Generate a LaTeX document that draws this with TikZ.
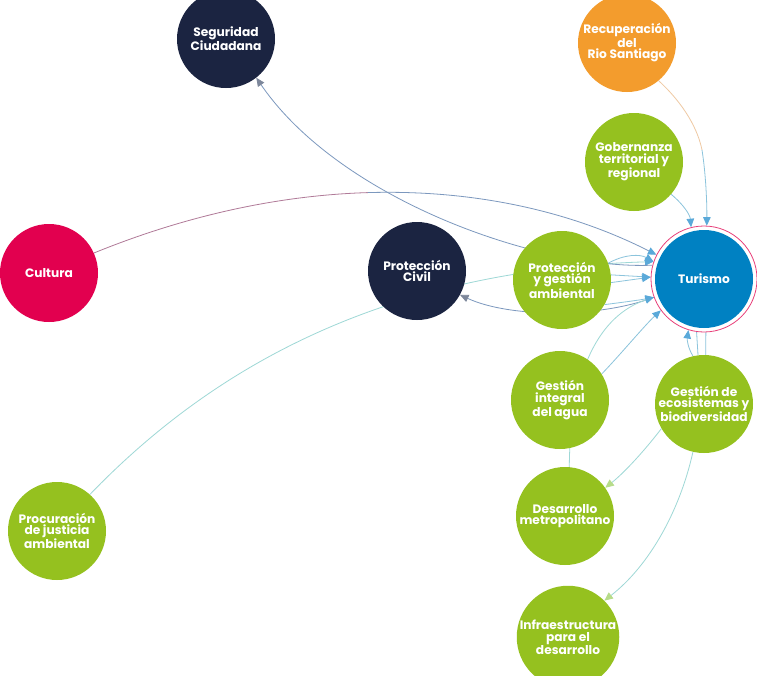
\documentclass[tikz,border=0pt]{standalone}
\usepackage{fontspec}
\setmainfont{Poppins}
\usetikzlibrary{arrows.meta}
\definecolor{navy}{HTML}{1B2441}
\definecolor{lime}{HTML}{95C11F}
\definecolor{orng}{HTML}{F39C2D}
\definecolor{turblue}{HTML}{0081C2}
\definecolor{crim}{HTML}{E2004F}
\definecolor{ringpink}{HTML}{E8407A}
\definecolor{lblue}{HTML}{8CC4DC}
\definecolor{arrblue}{HTML}{5AA9D9}
\definecolor{grayblue}{HTML}{7C98BE}
\definecolor{arrgray}{HTML}{7D879B}
\definecolor{lteal}{HTML}{9ED8D6}
\definecolor{mauve}{HTML}{B07A98}
\definecolor{peach}{HTML}{EFC9A3}
\definecolor{lgreen}{HTML}{B7DC8A}
\pgfdeclarelayer{back}
\pgfdeclarelayer{bg}
\pgfsetlayers{back,bg,main}
\begin{document}
\begin{tikzpicture}[x=1pt,y=-1pt,
  topic/.style={circle, minimum size=98pt, inner sep=0pt, text=white, align=center,
    font=\fontsize{12.2}{11.8}\selectfont\bfseries},
  link/.style={line width=0.8pt},
  arrowto/.style={-{Triangle[length=8.5pt,width=7.5pt,color=#1]}},
]
\begin{pgfonlayer}{back}
\fill[white] (0,0) rectangle (757,675);
\end{pgfonlayer}
\useasboundingbox (0,0) rectangle (757,675);

% nodes
\node[topic, fill=navy] (seg) at (226,39) {Seguridad\\Ciudadana};
\node[topic, fill=orng] (rec) at (627,43) {Recuperación\\del\\Rio Santiago};
\node[topic, fill=lime] (gob) at (634,162) {Gobernanza\\territorial y\\regional};
\node[circle, draw=ringpink, line width=0.8pt, fill=white, minimum size=106pt, inner sep=0pt] (tur) at (704,279) {};
\node[topic, fill=turblue] (turin) at (tur) {Turismo};
\node[topic, fill=lime] (pyga) at (562,280) {Protección\\y gestión\\ambiental};
\node[topic, fill=navy] (pc) at (417,271) {Protección\\Civil};
\node[topic, fill=crim] (cul) at (49,273) {Cultura};
\node[topic, fill=lime] (agua) at (560,400) {Gestión\\integral\\del agua};
\node[topic, fill=lime] (eco) at (704,404) {Gestión de\\ecosistemas y\\biodiversidad};
\node[topic, fill=lime] (des) at (565,516) {Desarrollo\\metropolitano};
\node[topic, fill=lime] (inf) at (568,637) {Infraestructura\\para el\\desarrollo};
\node[topic, fill=lime] (pro) at (57,531) {Procuración\\de justicia\\ambiental};

\coordinate (cmid) at (367.75,192.6);
\coordinate (rmid) at (702,150);

\begin{pgfonlayer}{bg}
% Cultura -> Turismo
\draw[link, mauve] (cul.24) .. controls (178.5,218.5) and (271.75,195.5) .. (cmid);
\draw[link, grayblue, arrowto=arrblue] (cmid) .. controls (463.75,189.75) and (562.5,207) .. (tur.153);
% Procuracion -> Turismo
\draw[link, lteal, arrowto=arrblue] (pro.48) .. controls (210,370) and (380,270) .. (tur.161);
% Turismo -> Seguridad
\draw[link, grayblue, arrowto=arrgray] (tur.165) .. controls (540,270) and (340,200) .. (seg.-52);
% Turismo -> Proteccion Civil
\draw[link, grayblue, arrowto=arrgray] (tur.200) .. controls (600,318) and (510,318) .. (pc.-29);
% Recuperacion -> Turismo
\draw[link, peach] (rec.-50) .. controls (685,105) and (698,130) .. (rmid);
\draw[link, lblue, arrowto=arrblue] (rmid) .. controls (706,175) and (707,205) .. (tur.87);
% Gobernanza -> Turismo
\draw[link, lblue, arrowto=arrblue] (gob.-41) .. controls (684,205) and (690,215) .. (tur.104);
% Proteccion y gestion -> Turismo
\draw[link, lblue, arrowto=arrblue] (pyga.20) .. controls (625,254) and (640,254) .. (tur.161);
\draw[link, lblue, arrowto=arrblue] (pyga.6) -- (tur.178);
\draw[link, lblue, arrowto=arrblue] (pyga.-3) -- (tur.178);
\draw[link, lblue, arrowto=arrblue] (pyga.-30) .. controls (625,302) and (640,300) .. (tur.200);
% Desarrollo / agua -> Turismo
\draw[link, lteal, arrowto=arrblue] (des.85) .. controls (570,370) and (600,315) .. (tur.200);
\draw[link, lblue, arrowto=arrblue] (agua.32) .. controls (620,355) and (645,325) .. (tur.216);
% Ecosistemas <-> Turismo
\draw[link, lblue, arrowto=arrblue] (eco.103) .. controls (688,348) and (687,340) .. (tur.253);
\draw[link, lblue] (eco.97) -- (tur.262);
\draw[link, lblue] (eco.88) -- (tur.272);
% Ecosistemas -> Desarrollo, Infraestructura
\draw[link, lteal, arrowto=lgreen] (eco.210) .. controls (645,450) and (625,472) .. (des.35);
\draw[link, lteal, arrowto=lgreen] (eco.257) .. controls (680,510) and (650,565) .. (inf.45);
\end{pgfonlayer}
\end{tikzpicture}
\end{document}
